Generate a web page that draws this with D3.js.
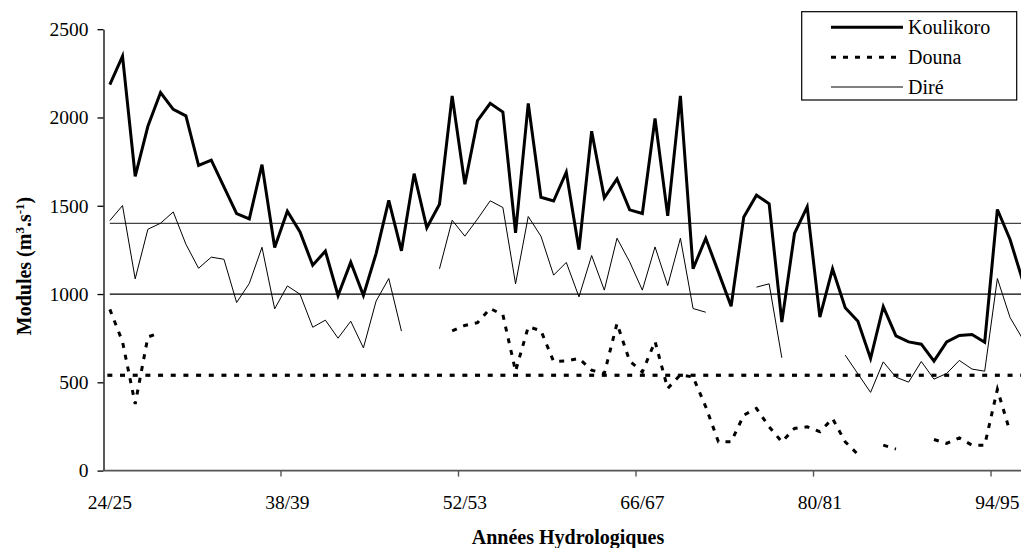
<!DOCTYPE html>
<html>
<head>
<meta charset="utf-8">
<script src="https://cdn.jsdelivr.net/npm/d3@7"></script>
<style>
  html, body { margin: 0; padding: 0; background: #fff; }
  svg { display: block; }
  text { font-family: "Liberation Serif", "Times New Roman", Times, serif; fill: #000; }
</style>
</head>
<body>
<svg id="chart" width="1021" height="548"></svg>
<script>
// ---------- DATA ----------
const startYears = d3.range(24, 97);               // 24/25 ... 96/97
const categories = startYears.map(y => y + "/" + (y + 1));
const tickLabels = ["24/25", "38/39", "52/53", "66/67", "80/81", "94/95"];
const yTicks = [0, 500, 1000, 1500, 2000, 2500];

const koulikoro = [2186, 2347, 1667, 1950, 2141, 2046, 2009, 1728, 1758, 1607,
  1456, 1426, 1733, 1264, 1469, 1352, 1163, 1243, 992, 1180,
  992, 1229, 1530, 1245, 1682, 1375, 1509, 2122, 1622, 1982,
  2080, 2031, 1346, 2080, 1548, 1527, 1690, 1252, 1922, 1545,
  1652, 1477, 1456, 1994, 1443, 2122, 1143, 1316, 1124, 931,
  1437, 1560, 1511, 841, 1343, 1494, 869, 1143, 922, 846,
  635, 928, 763, 729, 716, 620, 729, 765, 771, 727,
  1479, 1309, 1075];

const douna = [913, 730, 377, 757, 782, null, null, null, null, null,
  null, null, null, null, null, null, null, null, null, null,
  null, null, null, null, null, null, null, 791, 822, 838,
  918, 882, 563, 814, 793, 618, 622, 635, 569, 550,
  833, 620, 559, 731, 465, 543, 530, 361, 163, 163,
  314, 352, 248, 163, 239, 248, 220, 295, 163, 92,
  null, 144, 122, null, null, 176, 154, 185, 144, 144,
  460, 220, null];

const dire = [1416, 1501, 1086, 1367, 1401, 1465, 1282, 1146, 1209, 1197,
  952, 1060, 1265, 916, 1046, 999, 812, 852, 750, 846,
  695, 960, 1088, 790, null, null, 1143, 1418, 1328, 1425,
  1528, 1490, 1058, 1439, 1328, 1107, 1179, 984, 1218, 1022,
  1316, 1182, 1022, 1267, 1048, 1316, 918, 897, null, null,
  null, 1039, 1058, 639, null, null, null, null, 654, 548,
  443, 616, 529, 501, 618, 518, 550, 624, 575, 563,
  1088, 867, 745];

const refLevels = [1400, 1000];   // thin horizontal reference lines
const dounaMean = 540;            // dotted mean level

// ---------- LAYOUT ----------
const FONT = '"Liberation Serif", "Times New Roman", Times, serif';
const svg = d3.select("#chart");
const left = 103.5, step = 12.679;
const x = d3.scaleBand().domain(categories).range([left, left + categories.length * step]).padding(0);
const xc = c => x(c) + x.bandwidth() / 2;
const y = d3.scaleLinear().domain([0, 2500]).range([470.6, 29.2]);
const W = 1021;

// reference lines 1400 / 1000
svg.selectAll("line.ref").data(refLevels).enter().append("line")
  .attr("class", "ref")
  .attr("x1", xc(categories[0])).attr("x2", xc(categories[categories.length - 1]))
  .attr("y1", d => y(d)).attr("y2", d => y(d))
  .attr("stroke", (d, i) => i === 0 ? "#444" : "#000")
  .attr("stroke-width", (d, i) => i === 0 ? 1.4 : 1.2);

// dotted mean line as dash markers at each category
svg.selectAll("rect.mean").data(categories).enter().append("rect")
  .attr("class", "mean")
  .attr("x", d => xc(d) - 2.5).attr("y", y(dounaMean) - 1.6)
  .attr("width", 5).attr("height", 3.2)
  .attr("fill", "#000");

// axes
const yAxis = d3.axisLeft(y).tickValues(yTicks).tickFormat(d3.format("d"))
  .tickSize(6).tickSizeOuter(0).tickPadding(9);
const gy = svg.append("g").attr("transform", `translate(${left},0)`).call(yAxis)
  .attr("font-family", FONT).attr("font-size", 19.5);
gy.select(".domain").attr("stroke", "#000").attr("stroke-width", 1.3);
gy.selectAll(".tick line").attr("stroke", "#000").attr("stroke-width", 1.3);
gy.selectAll(".tick text").attr("font-family", FONT).style("font-size", "19.5px").attr("fill", "#000");

// x axis
svg.append("line").attr("x1", left).attr("x2", W).attr("y1", y(0)).attr("y2", y(0))
  .attr("stroke", "#555").attr("stroke-width", 1.6);
const tickCats = categories.filter(c => tickLabels.includes(c));
svg.selectAll("line.xt").data(tickCats.slice(1)).enter().append("line")
  .attr("class", "xt")
  .attr("x1", d => x(d)).attr("x2", d => x(d))
  .attr("y1", y(0)).attr("y2", y(0) + 6)
  .attr("stroke", "#555").attr("stroke-width", 1.4);
svg.selectAll("text.xl").data(tickCats).enter().append("text")
  .attr("class", "xl")
  .attr("x", d => xc(d)).attr("y", 509)
  .attr("text-anchor", "middle")
  .attr("font-family", FONT)
  .style("font-size", "19.5px")
  .text(d => d);

// series
const line = d3.line()
  .defined(d => d.v != null)
  .x(d => xc(d.c)).y(d => y(d.v));
const toPts = arr => categories.map((c, i) => ({ c, v: arr[i] }));

svg.append("path").datum(toPts(dire)).attr("d", line)
  .attr("fill", "none").attr("stroke", "#000").attr("stroke-width", 1);
svg.append("path").datum(toPts(douna)).attr("d", line)
  .attr("fill", "none").attr("stroke", "#000").attr("stroke-width", 3)
  .attr("stroke-dasharray", "5,7");
svg.append("path").datum(toPts(koulikoro)).attr("d", line)
  .attr("fill", "none").attr("stroke", "#000").attr("stroke-width", 3)
  .attr("stroke-linejoin", "miter");

// axis titles
svg.append("text")
  .attr("x", 568).attr("y", 544)
  .attr("text-anchor", "middle")
  .attr("font-family", FONT)
  .style("font-size", "20px").style("font-weight", "bold")
  .text("Années Hydrologiques");

const yt = svg.append("text")
  .attr("transform", "translate(30.5,266) rotate(-90)")
  .attr("text-anchor", "middle")
  .attr("font-family", FONT)
  .style("font-size", "20px").style("font-weight", "bold");
yt.append("tspan").text("Modules (m");
yt.append("tspan").attr("dy", -7).style("font-size", "13px").text("3");
yt.append("tspan").attr("dy", 7).text(".s");
yt.append("tspan").attr("dy", -7).style("font-size", "13px").text("-1");
yt.append("tspan").attr("dy", 7).text(")");

// legend
const lg = svg.append("g");
lg.append("rect").attr("x", 801.7).attr("y", 11.7).attr("width", 215).attr("height", 88.3)
  .attr("fill", "#fff").attr("stroke", "#000").attr("stroke-width", 1.2);
const legendItems = [
  { name: "Koulikoro", w: 3, dash: null, ly: 27.3 },
  { name: "Douna", w: 3, dash: "5,7", ly: 57.3 },
  { name: "Diré", w: 1, dash: null, ly: 87 }
];
legendItems.forEach(it => {
  lg.append("line").attr("x1", 831).attr("x2", 903).attr("y1", it.ly).attr("y2", it.ly)
    .attr("stroke", "#000").attr("stroke-width", it.w)
    .attr("stroke-dasharray", it.dash);
  lg.append("text").attr("x", 908).attr("y", it.ly + 7)
    .attr("font-family", FONT)
    .style("font-size", "20px").text(it.name);
});
</script>
</body>
</html>
